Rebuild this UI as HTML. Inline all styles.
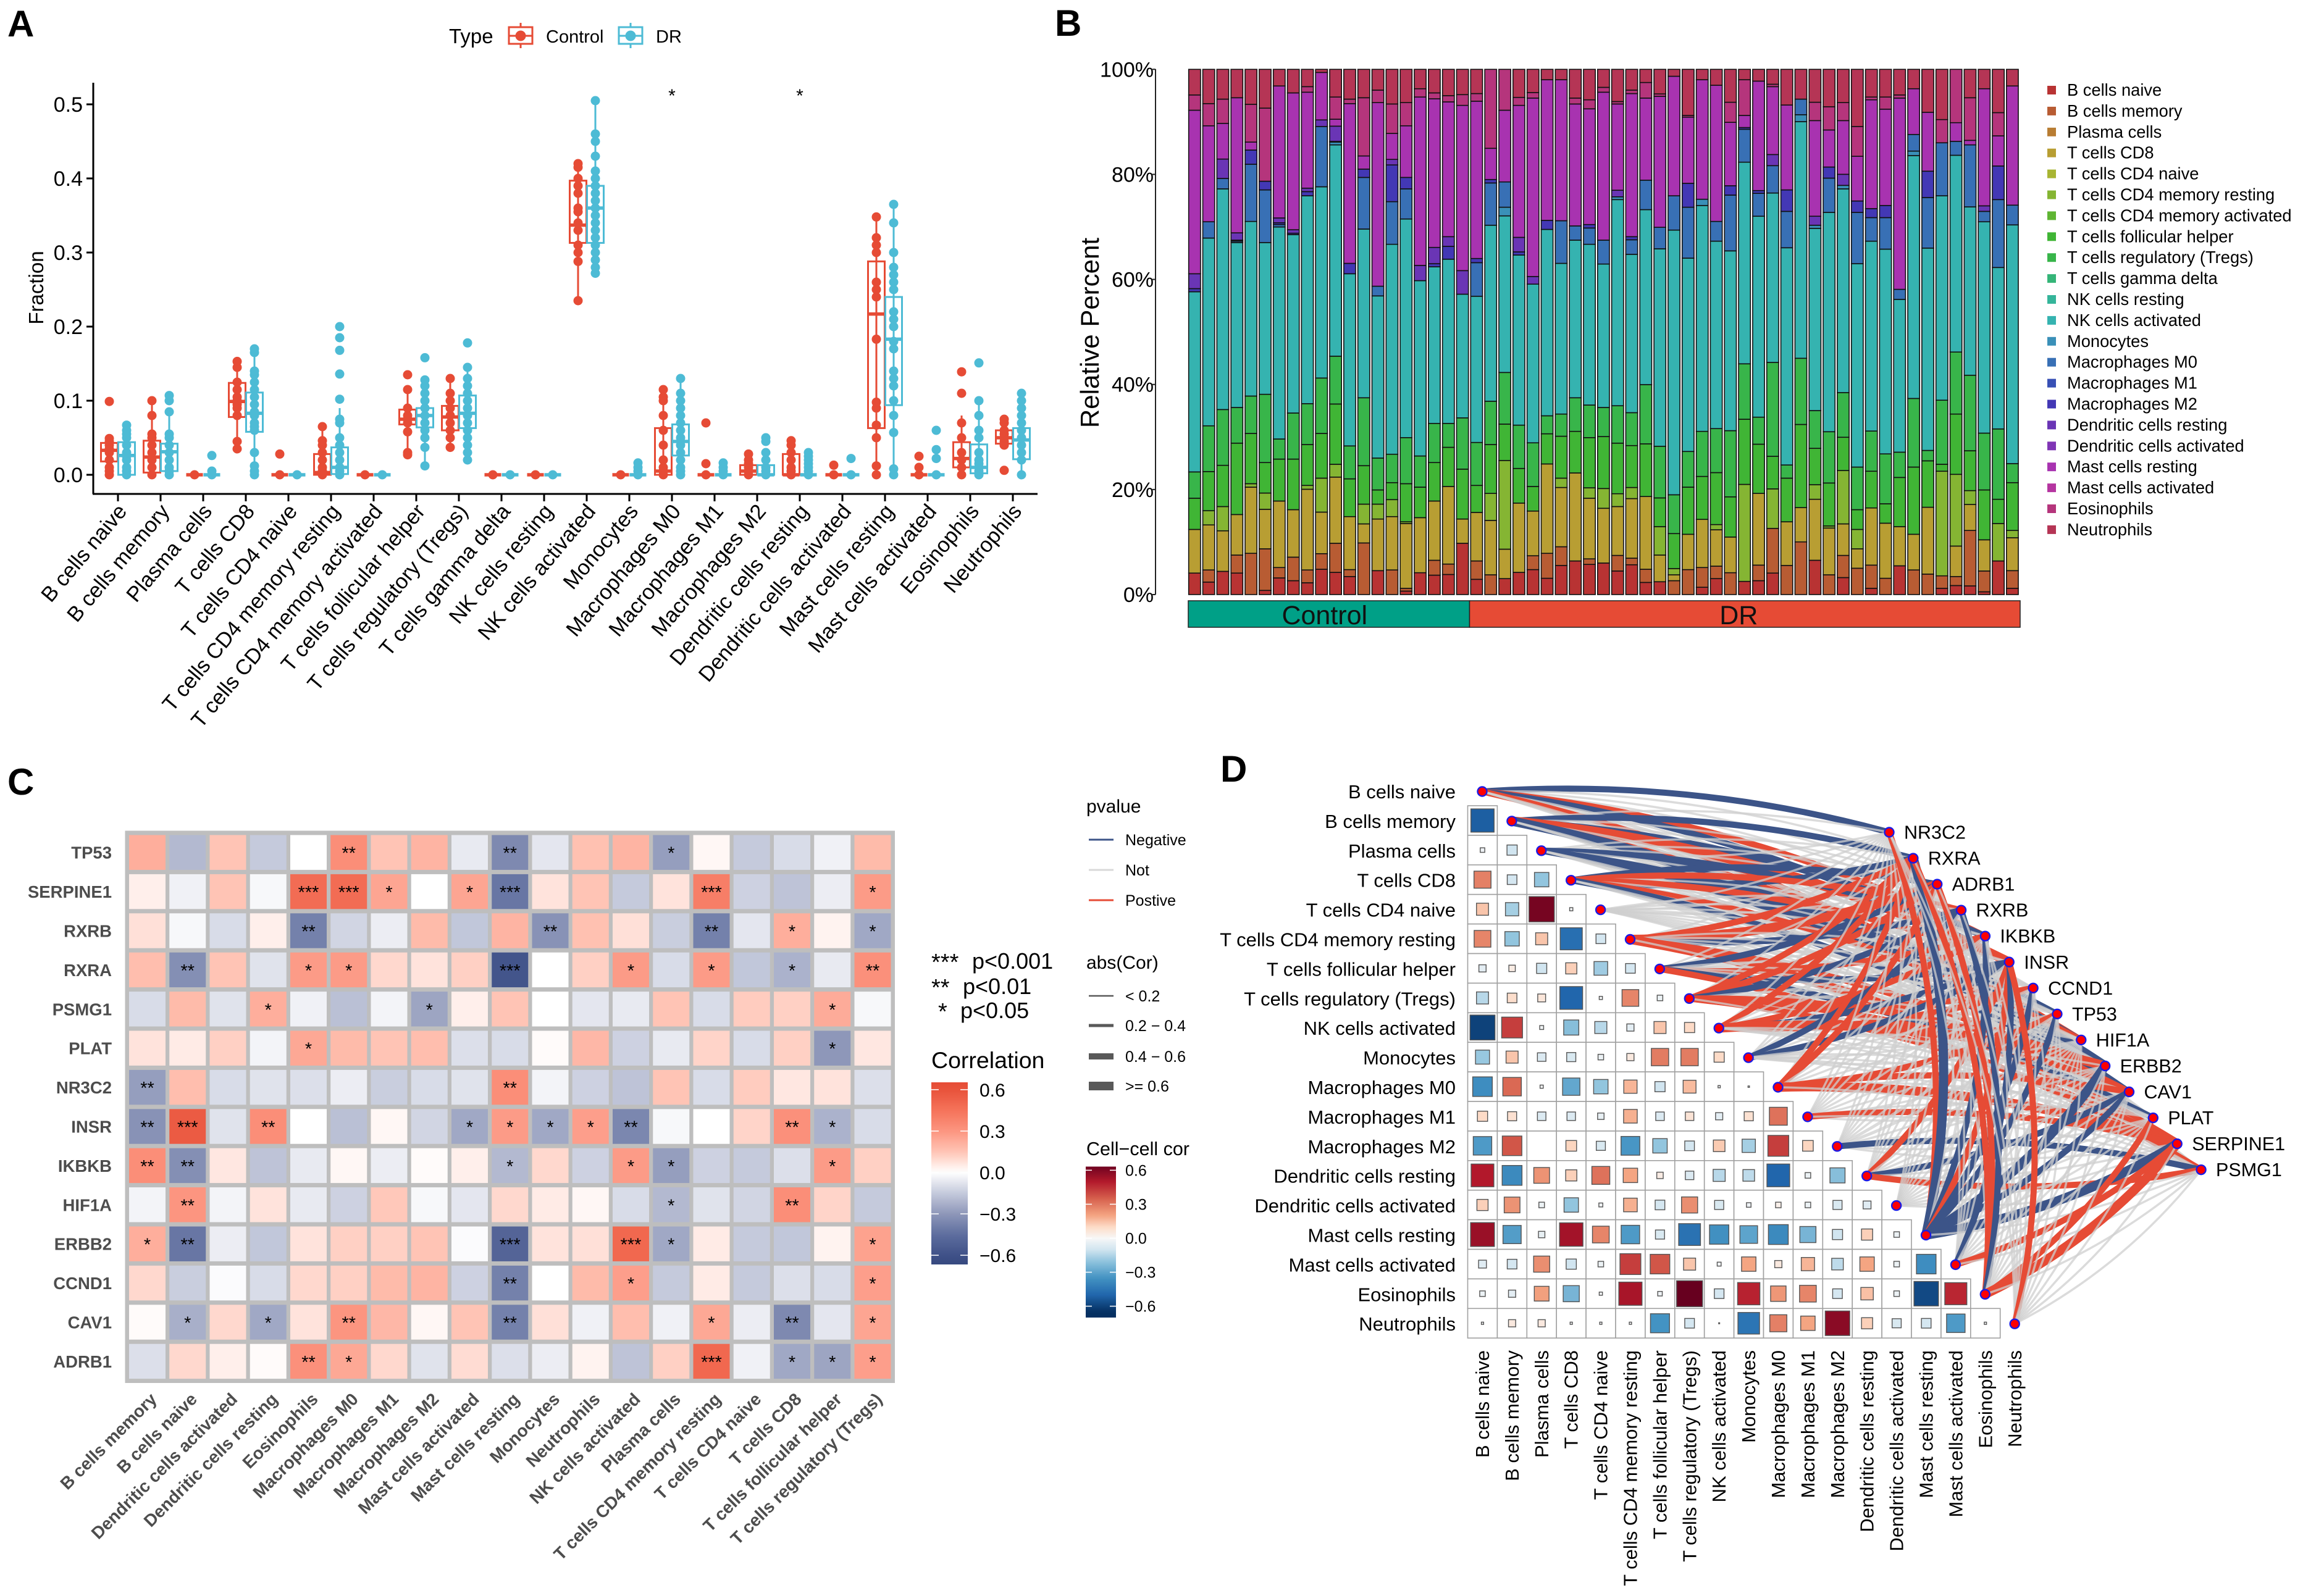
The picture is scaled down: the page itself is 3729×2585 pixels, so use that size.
<!DOCTYPE html>
<html lang="en">
<head>
<meta charset="utf-8">
<title>Immune cell infiltration figure</title>
<style>
html,body{margin:0;padding:0;background:#fff;}
svg{display:block;font-family:"Liberation Sans",Arial,sans-serif;}
</style>
</head>
<body>
<svg id="fig" xmlns="http://www.w3.org/2000/svg" width="3729" height="2585" viewBox="0 0 3729 2585">
<defs id="defs"></defs>
<rect x="0" y="0" width="3729" height="2585" fill="#ffffff"/>
<text x="12" y="59" font-size="60" font-weight="bold">A</text>
<text x="1708" y="58" font-size="60" font-weight="bold">B</text>
<text x="12" y="1287" font-size="60" font-weight="bold">C</text>
<text x="1976" y="1266" font-size="60" font-weight="bold">D</text>

<g>
<text x="727" y="70" font-size="33">Type</text>
<g fill="none" stroke="#e64b35" stroke-width="3">
<line x1="843" y1="37" x2="843" y2="78"/><rect x="824" y="44" width="38" height="27" fill="#fff"/><line x1="824" y1="58" x2="862" y2="58"/><circle cx="843" cy="58" r="7" fill="#e64b35"/>
</g>
<text x="884" y="69" font-size="29">Control</text>
<g fill="none" stroke="#4dbbd5" stroke-width="3">
<line x1="1021" y1="37" x2="1021" y2="78"/><rect x="1002" y="44" width="38" height="27" fill="#fff"/><line x1="1002" y1="58" x2="1040" y2="58"/><circle cx="1021" cy="58" r="7" fill="#4dbbd5"/>
</g>
<text x="1062" y="69" font-size="29">DR</text>
</g>
<text transform="translate(70,466) rotate(-90)" text-anchor="middle" font-size="33">Fraction</text>
<text transform="translate(1779,539) rotate(-90)" text-anchor="middle" font-size="42">Relative Percent</text>

<g font-size="36">
<text x="1508" y="1571" font-size="38">***</text>
<text x="1574" y="1569">p&lt;0.001</text>
<text x="1508" y="1612" font-size="38">**</text>
<text x="1559" y="1610">p&lt;0.01</text>
<text x="1519" y="1651" font-size="38">*</text>
<text x="1555" y="1649">p&lt;0.05</text>
</g>
<text x="1508" y="1730" font-size="37.5">Correlation</text>

<g font-size="25">
<text x="1759" y="1316" font-size="30">pvalue</text>
<line x1="1763" y1="1360" x2="1803" y2="1360" stroke="#3c5488" stroke-width="3"/>
<text x="1822" y="1369">Negative</text>
<line x1="1763" y1="1409" x2="1803" y2="1409" stroke="#d9d9d9" stroke-width="3"/>
<text x="1822" y="1418">Not</text>
<line x1="1763" y1="1458" x2="1803" y2="1458" stroke="#e64b35" stroke-width="3"/>
<text x="1822" y="1467">Postive</text>
</g>
<g font-size="25">
<text x="1759" y="1569" font-size="30">abs(Cor)</text>
<line x1="1763" y1="1613" x2="1803" y2="1613" stroke="#595959" stroke-width="2.5"/>
<text x="1822" y="1622">&lt; 0.2</text>
<line x1="1763" y1="1661" x2="1803" y2="1661" stroke="#595959" stroke-width="5"/>
<text x="1822" y="1670">0.2 − 0.4</text>
<line x1="1763" y1="1711" x2="1803" y2="1711" stroke="#595959" stroke-width="10"/>
<text x="1822" y="1720">0.4 − 0.6</text>
<line x1="1763" y1="1759" x2="1803" y2="1759" stroke="#595959" stroke-width="14"/>
<text x="1822" y="1768">&gt;= 0.6</text>
</g>
<text x="1759" y="1871" font-size="30.5">Cell−cell cor</text>

<g id="panelA"></g>
<g id="panelB"></g>
<g id="panelC"></g>
<g id="panelD"></g>
</svg>

<script>
/* ---------- Panel A data ---------- */
const boxCategories = ["B cells naive","B cells memory","Plasma cells","T cells CD8","T cells CD4 naive","T cells CD4 memory resting","T cells CD4 memory activated","T cells follicular helper","T cells regulatory (Tregs)","T cells gamma delta","NK cells resting","NK cells activated","Monocytes","Macrophages M0","Macrophages M1","Macrophages M2","Dendritic cells resting","Dendritic cells activated","Mast cells resting","Mast cells activated","Eosinophils","Neutrophils"];
const boxTicks = [0,0.1,0.2,0.3,0.4,0.5];
const boxSignificant = ["Macrophages M0","Dendritic cells resting"];
const controlQ1 = [.018,.003,0,.078,0,0,0,.068,.06,0,0,.313,0,0,0,0,0,0,.063,0,.01,.042];
const controlMedian = [.033,.024,0,.099,0,.003,0,.075,.078,0,0,.337,0,.005,0,.005,0,0,.217,0,.022,.05];
const controlQ3 = [.043,.046,0,.124,0,.028,0,.088,.093,0,0,.397,0,.063,0,.013,.028,0,.288,0,.044,.06];
const controlLow = [0,0,0,.035,0,0,0,.027,.037,0,0,.235,0,0,0,0,0,0,0,0,0,.04];
const controlHigh = [.049,.1,0,.153,0,.065,0,.115,.13,0,0,.42,0,.115,0,.028,.046,0,.348,0,.08,.075];
const controlPoints = [
[0,.005,.01,.02,.03,.035,.04,.045,.049,.099],
[0,.01,.02,.03,.04,.05,.055,.08,.1],
[0],
[.035,.045,.08,.09,.095,.1,.105,.115,.125,.145,.153],
[0,.028],
[0,.005,.01,.02,.03,.04,.046,.065],
[0],
[.027,.03,.058,.07,.075,.08,.09,.115,.135],
[.037,.05,.06,.07,.08,.09,.1,.11,.13],
[0],[0],
[.235,.288,.3,.31,.33,.34,.355,.36,.38,.39,.4,.415,.42],
[0],
[0,.005,.01,.02,.04,.06,.08,.1,.105,.115],
[0,.015,.07],
[0,.005,.01,.015,.02,.028],
[0,.005,.01,.02,.03,.04,.046],
[0,.013],
[0,.012,.05,.067,.09,.098,.183,.24,.25,.26,.3,.31,.32,.348],
[0,.01,.025],
[0,.01,.02,.03,.05,.07,.11,.139],
[.006,.04,.045,.05,.055,.06,.07,.075]];
const drQ1 = [0,.005,0,.058,0,.001,0,.064,.063,0,0,.313,0,.026,0,0,0,0,.094,0,.002,.021];
const drMedian = [.026,.031,0,.083,0,.01,0,.08,.083,0,0,.36,0,.045,0,0,0,0,.183,0,.01,.047];
const drQ3 = [.044,.042,0,.111,0,.037,0,.09,.107,0,0,.39,0,.068,0,.013,0,0,.24,0,.041,.063];
const drLow = [0,0,0,0,0,0,0,.012,.02,0,0,.272,0,0,0,0,0,0,0,0,0,0];
const drHigh = [.067,.085,0,.17,0,.09,0,.128,.145,0,0,.505,0,.13,0,.03,.005,0,.365,0,.1,.11];
const drPoints = [
[0,.005,.01,.02,.025,.03,.04,.05,.055,.06,.067],
[0,.005,.01,.02,.03,.04,.05,.055,.085,.1,.107],
[0,.005,.026],
[0,.005,.012,.03,.06,.065,.07,.08,.085,.095,.105,.115,.125,.135,.14,.165,.17],
[0],
[0,.005,.01,.02,.03,.04,.05,.07,.075,.102,.136,.168,.185,.2],
[0],
[.012,.037,.05,.06,.07,.08,.09,.1,.11,.12,.128,.158],
[.02,.03,.04,.05,.06,.07,.08,.09,.1,.11,.12,.13,.145,.178],
[0],[0],
[.272,.28,.29,.3,.31,.32,.33,.34,.35,.36,.37,.38,.39,.4,.41,.43,.45,.46,.505],
[0,.005,.01,.016],
[0,.005,.01,.02,.03,.04,.05,.06,.07,.08,.09,.1,.11,.13],
[0,.005,.01,.016],
[0,.005,.01,.02,.03,.045,.05],
[0,.005,.01,.015,.02,.025,.03],
[0,.022],
[0,.008,.057,.08,.1,.12,.13,.14,.17,.18,.2,.21,.22,.25,.26,.27,.28,.3,.34,.365],
[0,.022,.034,.06],
[0,.005,.01,.015,.02,.03,.05,.06,.08,.1,.151],
[0,.02,.03,.04,.05,.06,.07,.08,.09,.1,.11]];

/* ---------- Panel B data: relative abundance per sample, each bar normalised to 100% ---------- */
const stackLegend = ["B cells naive","B cells memory","Plasma cells","T cells CD8","T cells CD4 naive","T cells CD4 memory resting","T cells CD4 memory activated","T cells follicular helper","T cells regulatory (Tregs)","T cells gamma delta","NK cells resting","NK cells activated","Monocytes","Macrophages M0","Macrophages M1","Macrophages M2","Dendritic cells resting","Dendritic cells activated","Mast cells resting","Mast cells activated","Eosinophils","Neutrophils"];
const stackTicks = [0,20,40,60,80,100];
const controlSamples = 20;
const bNaive = [62,36,67,62,0,12,48,40,34,73,64,52,0,69,0,10,63,56,58,148,44,0,46,64,72,47,84,97,87,91,68,86,35,37,0,0,21,46,0,38,40,62,0,0,99,0,49,0,18,0,83,0,0,18,26,25,8,97,18];
const bMemory = [0,35,0,52,119,120,30,68,37,45,84,20,149,0,71,8,0,43,30,0,53,57,0,0,40,72,54,0,16,0,45,19,38,0,40,72,57,36,63,0,45,129,84,152,0,57,64,76,67,47,0,71,59,36,26,160,60,0,51];
const tCd8 = [126,130,117,117,191,114,192,137,233,120,191,153,55,149,154,187,159,171,224,70,140,157,85,200,129,258,171,254,175,158,141,172,210,77,17,102,139,105,103,0,207,0,126,99,176,135,91,56,165,159,113,103,193,0,88,75,90,0,95];
const cd4Rest = [0,41,70,0,10,47,0,0,11,98,37,0,57,43,49,5,0,0,0,0,0,78,256,0,0,0,27,0,30,57,37,32,0,82,18,0,0,15,0,280,0,114,0,0,42,6,154,56,0,0,0,0,0,302,207,40,0,108,21];
const tfh = [90,113,119,206,145,88,121,146,118,129,174,109,111,41,49,110,88,111,113,144,78,141,105,100,71,87,121,120,145,150,146,121,152,83,101,136,124,150,116,188,142,94,126,240,105,124,96,57,106,56,142,194,134,20,174,115,144,70,138];
const tregs = [76,132,161,103,108,197,58,133,118,160,138,95,196,92,82,133,90,113,69,148,124,125,149,125,126,52,64,97,94,84,108,95,171,149,112,103,130,127,191,160,78,271,38,191,109,148,129,123,116,144,73,198,30,185,179,218,164,203,55];
const nkActivated = [520,542,637,476,504,438,612,515,600,552,610,497,487,468,606,631,506,452,474,357,422,508,452,491,458,538,435,455,464,414,595,457,505,570,764,558,652,541,519,582,580,489,627,683,526,633,588,587,548,591,441,701,584,590,568,486,610,466,689];
const monocytes = [0,0,0,0,0,0,0,0,0,0,8,0,0,0,0,0,0,0,0,0,0,0,25,0,0,0,0,0,0,0,8,0,0,0,0,0,18,0,0,0,0,0,0,20,9,0,10,0,0,0,0,13,0,0,0,0,0,0,0];
const macroM0 = [0,47,30,4,165,152,7,0,0,174,0,0,149,28,123,87,0,0,0,0,97,122,73,0,0,0,123,41,47,69,0,42,85,62,99,147,0,57,161,95,66,79,105,45,0,99,0,148,68,91,29,48,146,153,40,179,30,196,57];
const macroM1 = [9,0,0,3,41,25,5,4,12,0,2,30,24,0,106,33,0,9,37,0,12,10,0,9,0,26,0,0,10,0,0,9,0,0,0,69,0,0,27,5,8,0,62,0,0,32,0,33,26,35,0,0,76,0,0,0,0,97,0];
const dcResting = [43,0,56,21,0,0,14,10,10,19,44,0,0,0,16,0,44,47,28,68,0,0,0,42,22,0,0,0,0,0,19,0,0,0,0,0,0,0,0,0,0,32,0,0,26,0,32,0,0,0,0,0,0,0,0,0,16,0,0];
const mastResting = [472,277,103,390,23,0,381,395,277,137,20,461,38,530,75,149,486,429,389,477,454,90,207,381,515,406,407,352,334,427,249,413,237,378,345,191,345,393,183,35,316,196,245,0,276,107,155,129,314,278,552,132,170,0,54,13,338,87,344];
const eosinophils = [44,64,70,0,109,211,0,0,16,0,64,13,168,36,85,67,24,17,18,31,22,228,118,23,16,0,0,17,26,14,7,10,45,7,0,5,0,0,58,103,0,7,0,0,53,67,52,86,8,35,9,0,0,67,154,123,0,67,0];
const neutrophils = [74,99,86,82,101,112,48,68,50,9,80,86,82,60,100,96,56,68,76,73,70,0,0,81,67,30,30,83,88,52,93,60,38,71,20,133,30,46,95,30,34,43,103,86,95,108,96,165,80,80,74,56,124,145,0,82,56,125,48];

/* ---------- Panel C data ---------- */
const heatColumns = ["B cells memory","B cells naive","Dendritic cells activated","Dendritic cells resting","Eosinophils","Macrophages M0","Macrophages M1","Macrophages M2","Mast cells activated","Mast cells resting","Monocytes","Neutrophils","NK cells activated","Plasma cells","T cells CD4 memory resting","T cells CD4 naive","T cells CD8","T cells follicular helper","T cells regulatory (Tregs)"];
const heatGenes = ["TP53","SERPINE1","RXRB","RXRA","PSMG1","PLAT","NR3C2","INSR","IKBKB","HIF1A","ERBB2","CCND1","CAV1","ADRB1"];
const heatValues = [
[.22,-.2,.15,-.15,0,.33,.15,.2,-.06,-.35,-.07,.16,.2,-.28,.02,-.15,-.1,-.04,.18],
[.04,-.04,.15,-.02,.48,.48,.25,0,.25,-.42,.07,.15,-.15,.07,.4,-.13,-.17,-.05,.28],
[.08,-.02,-.1,.04,-.38,-.12,-.05,.18,-.16,.2,-.32,.16,.08,-.14,-.38,-.07,.22,.03,-.25],
[.17,-.33,.15,-.08,.28,.28,.1,.07,.12,-.58,0,.12,.28,-.1,.28,-.16,-.22,-.06,.32],
[-.1,.18,-.08,.22,-.04,-.18,-.03,-.26,.04,.15,0,-.07,-.06,.15,-.1,.13,.12,.23,-.02],
[.07,.05,.12,-.03,.24,.18,.15,.17,-.09,-.1,.01,.19,-.13,-.06,.11,-.1,.12,-.3,.06],
[-.28,.17,-.1,-.08,-.09,-.05,-.14,-.1,-.08,.33,-.03,-.13,-.17,.15,-.1,.13,.06,.07,-.09],
[-.32,.56,-.08,.33,0,-.18,.02,-.12,-.25,.28,-.25,.27,-.36,-.02,0,.11,.32,-.22,-.1],
[.33,-.33,.06,-.17,-.06,.02,-.05,.01,.04,-.2,.1,-.13,.28,-.28,-.13,-.15,-.09,.28,.12],
[-.03,.3,-.03,.07,-.06,-.13,.14,-.02,-.07,.1,.05,.02,-.1,-.2,-.08,-.12,.33,.11,-.15],
[.22,-.42,-.05,-.16,.07,.12,.12,.15,-.01,-.5,.07,.08,.5,-.25,.05,-.15,-.16,.03,.26],
[.1,-.14,-.01,-.1,.1,.12,.18,.2,-.13,-.38,0,.18,.27,-.15,.05,-.15,-.09,-.1,.27],
[.01,-.23,.1,-.25,.07,.3,.19,.02,.15,-.38,.08,-.04,.17,-.04,.24,-.05,-.35,-.07,.25],
[-.09,.1,.04,.01,.32,.24,.1,-.08,.09,-.09,-.05,.03,-.17,.12,.5,-.04,-.25,-.26,.27]];
const heatStars = [
[0,0,0,0,0,2,0,0,0,2,0,0,0,1,0,0,0,0,0],
[0,0,0,0,3,3,1,0,1,3,0,0,0,0,3,0,0,0,1],
[0,0,0,0,2,0,0,0,0,0,2,0,0,0,2,0,1,0,1],
[0,2,0,0,1,1,0,0,0,3,0,0,1,0,1,0,1,0,2],
[0,0,0,1,0,0,0,1,0,0,0,0,0,0,0,0,0,1,0],
[0,0,0,0,1,0,0,0,0,0,0,0,0,0,0,0,0,1,0],
[2,0,0,0,0,0,0,0,0,2,0,0,0,0,0,0,0,0,0],
[2,3,0,2,0,0,0,0,1,1,1,1,2,0,0,0,2,1,0],
[2,2,0,0,0,0,0,0,0,1,0,0,1,1,0,0,0,1,0],
[0,2,0,0,0,0,0,0,0,0,0,0,0,1,0,0,2,0,0],
[1,2,0,0,0,0,0,0,0,3,0,0,3,1,0,0,0,0,1],
[0,0,0,0,0,0,0,0,0,2,0,0,1,0,0,0,0,0,1],
[0,1,0,1,0,2,0,0,0,2,0,0,0,0,1,0,2,0,1],
[0,0,0,0,2,1,0,0,0,0,0,0,0,0,3,0,1,1,1]];
const heatLegendTicks = [0.6,0.3,0,-0.3,-0.6];

/* ---------- Panel D data ---------- */
const netCells = ["B cells naive","B cells memory","Plasma cells","T cells CD8","T cells CD4 naive","T cells CD4 memory resting","T cells follicular helper","T cells regulatory (Tregs)","NK cells activated","Monocytes","Macrophages M0","Macrophages M1","Macrophages M2","Dendritic cells resting","Dendritic cells activated","Mast cells resting","Mast cells activated","Eosinophils","Neutrophils"];
const netCellHeatColumn = [0,1,13,16,15,14,17,18,12,10,5,6,7,3,2,9,8,4,11];
const netGenes = ["NR3C2","RXRA","ADRB1","RXRB","IKBKB","INSR","CCND1","TP53","HIF1A","ERBB2","CAV1","PLAT","SERPINE1","PSMG1"];
const cellCorrelation = [
[-.52],
[-.02,-.1],
[.28,-.09,-.2],
[.14,-.17,.62,-.01],
[.27,-.2,.14,-.47,-.09],
[-.05,.04,-.1,.12,-.18,-.09],
[-.14,.09,.06,-.5,-.01,.27,-.03],
[-.6,.42,-.015,-.22,-.14,-.05,.14,.1],
[-.19,.14,-.07,-.08,-.03,.05,.29,.29,.1],
[-.37,.33,-.01,-.29,-.2,.17,-.1,.16,-.005,-.002],
[.1,.08,-.07,-.07,-.04,.18,-.07,.07,-.05,.08,.31],
[-.33,.37,0,.11,-.08,-.34,-.2,-.09,.13,-.17,.42,.11],
[.5,-.38,.24,.12,.31,.2,.04,-.07,-.14,-.13,-.5,-.03,-.22],
[.12,.24,-.03,-.2,-.015,.18,-.09,.25,-.08,-.02,.03,-.03,-.08,-.06],
[.55,-.32,-.04,.53,.27,-.33,-.08,-.46,-.36,-.3,-.38,-.25,-.1,.12,-.03],
[-.06,-.09,.25,-.1,-.03,.42,.37,.14,-.015,.2,.05,.17,-.13,.2,-.03,-.37],
[-.03,-.05,.21,-.25,-.01,.52,-.02,.65,-.09,.48,.23,.27,-.09,.15,-.03,-.58,.47],
[-.005,.05,.05,-.005,-.005,-.005,-.35,-.09,-.001,-.45,.28,.2,.58,.12,-.08,-.09,-.33,-.005]];
const cellLegendTicks = [0.6,0.3,0,-0.3,-0.6];

/* ---------- helpers ---------- */
const NS = "http://www.w3.org/2000/svg";
function mk(tag, attrs, parent, text){
  const e = document.createElementNS(NS, tag);
  for (const k in attrs) e.setAttribute(k, attrs[k]);
  if (text !== undefined) e.textContent = text;
  parent.appendChild(e);
  return e;
}
function lerpStops(stops, v){
  if (v <= stops[0][0]) return stops[0][1];
  for (let i = 1; i < stops.length; i++){
    if (v <= stops[i][0]){
      const a = stops[i-1], b = stops[i], t = (v-a[0])/(b[0]-a[0]);
      const ca = hex(a[1]), cb = hex(b[1]);
      return "rgb(" + ca.map((c,j)=>Math.round(c+(cb[j]-c)*t)).join(",") + ")";
    }
  }
  return stops[stops.length-1][1];
}
function hex(h){ return [1,3,5].map(i=>parseInt(h.substr(i,2),16)); }
const heatStops = [[-.67,"#36497f"],[-.6,"#3f5188"],[-.45,"#5e6e9f"],[-.3,"#8e97b9"],[-.15,"#c5cadc"],[0,"#ffffff"],[.15,"#ffc4b5"],[.3,"#fc9580"],[.45,"#f5735a"],[.6,"#e8523a"],[.66,"#e64b35"]];
const cellStops = [[-.65,"#053061"],[-.5,"#2166ac"],[-.35,"#4393c3"],[-.2,"#92c5de"],[-.1,"#d1e5f0"],[0,"#f7f7f7"],[.1,"#fddbc7"],[.2,"#f4a582"],[.35,"#d6604d"],[.5,"#b2182b"],[.65,"#67001f"]];
const fmt = v => (v<0 ? "−" : "") + Math.abs(v).toFixed(1);

/* ---------- Panel A ---------- */
(function(){
  const g = document.getElementById("panelA");
  const yA = v => 769 - v*1200;
  const xA = i => 191 + i*69;
  const axisY = mk("line",{x1:151,y1:134,x2:151,y2:800,stroke:"#000","stroke-width":3},g);
  
  
  const axisX = mk("line",{x1:150,y1:800,x2:1680,y2:800,stroke:"#000","stroke-width":3},g);
  
  
  boxTicks.forEach(t=>{
    const tk = mk("line",{x1:140,y1:yA(t),x2:151,y2:yA(t),stroke:"#000","stroke-width":3},g);
    
    
    const lb = mk("text",{x:134,y:yA(t)+12,"text-anchor":"end","font-size":34},g,t.toFixed(1));
    
    
  });
  function group(i, off, color, q1, med, q3, lo, hi, pts, nm){
    const gg = mk("g",{},g);
    
    
    const cx = xA(i)+off;
    const w = mk("line",{x1:cx,y1:yA(lo),x2:cx,y2:yA(hi),stroke:color,"stroke-width":3},gg);
    
    
    const r = mk("rect",{x:cx-13.5,y:yA(q3),width:27,height:yA(q1)-yA(q3),fill:"none",stroke:color,"stroke-width":3},gg);
    
    
    const m = mk("line",{x1:cx-13.5,y1:yA(med),x2:cx+13.5,y2:yA(med),stroke:color,"stroke-width":5.5},gg);
    
    
    pts.forEach(p=>{
      const c = mk("circle",{cx:cx,cy:yA(p),r:7.5,fill:color},gg);
      
      
    });
  }
  boxCategories.forEach((name,i)=>{
    const tk = mk("line",{x1:xA(i),y1:800,x2:xA(i),y2:812,stroke:"#000","stroke-width":3},g);
    
    
    group(i,-14,"#e64b35",controlQ1[i],controlMedian[i],controlQ3[i],controlLow[i],controlHigh[i],controlPoints[i],"control");
    group(i,14,"#4dbbd5",drQ1[i],drMedian[i],drQ3[i],drLow[i],drHigh[i],drPoints[i],"dr");
    const lb = mk("text",{transform:"translate("+(xA(i)+16)+",829) rotate(-50)","text-anchor":"end","font-size":34.5},g,name);
    
    
    if (boxSignificant.indexOf(name) >= 0){
      const st = mk("text",{x:xA(i),y:165,"text-anchor":"middle","font-size":30},g,"*");
      
      
    }
  });
})();

/* ---------- Panel B ---------- */
(function(){
  const g = document.getElementById("panelB");
  const yB = p => 963 - p*8.507;
  const xB = i => 1934.3 + i*22.83;
  const series = [[bNaive,"#b83333"],[bMemory,"#b85c33"],[tCd8,"#b89e33"],[cd4Rest,"#85b533"],[tfh,"#40b535"],[tregs,"#38b54a"],[nkActivated,"#35b3b0"],[monocytes,"#3a90b8"],[macroM0,"#3870b5"],[macroM1,"#4338b5"],[dcResting,"#6a35b5"],[mastResting,"#a833b0"],[eosinophils,"#b5357c"],[neutrophils,"#b53555"]];
  const legendColors = ["#b83333","#b85c33","#b87d33","#b89e33","#a8b533","#85b533","#5fb533","#40b535","#38b54a","#35b578","#35b59a","#35b3b0","#3a90b8","#3870b5","#3850b5","#4338b5","#6a35b5","#8035b5","#a833b0","#b535a0","#b5357c","#b53555"];
  const n = bNaive.length;
  for (let i = 0; i < n; i++){
    let total = 0;
    series.forEach(s=>{ total += s[0][i]; });
    let cum = 0;
    const bar = mk("g",{},g);
    
    
    series.forEach(s=>{
      const v = s[0][i];
      if (v <= 0) return;
      const a = cum/total*100, b = (cum+v)/total*100;
      cum += v;
      const r = mk("rect",{x:xB(i)-9.6,y:yB(b),width:19.2,height:yB(a)-yB(b),fill:s[1],stroke:"#111","stroke-width":1.6},bar);
      
      
    });
  }
  const ax = mk("line",{x1:1871,y1:112,x2:1871,y2:963,stroke:"#222","stroke-width":2},g);
  
  
  stackTicks.forEach(t=>{
    const tk = mk("line",{x1:1866,y1:yB(t),x2:1871,y2:yB(t),stroke:"#222","stroke-width":2},g);
    
    
    const lb = mk("text",{x:1868,y:yB(t)+12,"text-anchor":"end","font-size":34},g,t+"%");
    
    
  });
  const splitX = xB(controlSamples) - 11.4;
  const ctl = mk("rect",{x:1924,y:973,width:splitX-1924,height:43,fill:"#00a087",stroke:"#222","stroke-width":1.5},g);
  
  
  const dr = mk("rect",{x:splitX,y:973,width:3271-splitX,height:43,fill:"#e64b35",stroke:"#222","stroke-width":1.5},g);
  
  
  const ctlT = mk("text",{x:(1924+splitX)/2-7,y:1011,"text-anchor":"middle","font-size":43,fill:"#111"},g,"Control");
  
  
  const drT = mk("text",{x:(splitX+3271)/2-10,y:1011,"text-anchor":"middle","font-size":43,fill:"#111"},g,"DR");
  
  
  stackLegend.forEach((name,i)=>{
    const y = 146 + i*33.9;
    const sw = mk("rect",{x:3315,y:y-7,width:14,height:14,fill:legendColors[i]},g);
    
    
    const lb = mk("text",{x:3347,y:y+9,"font-size":27.3},g,name);
    
    
  });
})();

/* ---------- Panel C ---------- */
(function(){
  const g = document.getElementById("panelC");
  const cx = j => 238.5 + j*65.25;
  const cy = i => 1380.7 + i*63.4;
  const frame = mk("rect",{x:202.5,y:1345.5,width:1246.5,height:894.5,fill:"#bebebe"},g);
  
  
  heatGenes.forEach((gene,i)=>{
    const lb = mk("text",{x:181,y:cy(i)+10,"text-anchor":"end","font-size":27.5,"font-weight":"bold",fill:"#4d4d4d"},g,gene);
    
    
    heatColumns.forEach((col,j)=>{
      const v = heatValues[i][j];
      const r = mk("rect",{x:cx(j)-29.5,y:cy(i)-28.2,width:59,height:56.4,fill:lerpStops(heatStops,v)},g);
      
      
      const s = heatStars[i][j];
      if (s > 0){
        const t = mk("text",{x:cx(j),y:cy(i)+11,"text-anchor":"middle","font-size":29,fill:"#000"},g,"*".repeat(s));
        
        
      }
    });
  });
  heatColumns.forEach((col,j)=>{
    const lb = mk("text",{transform:"translate("+(cx(j)+17)+",2268) rotate(-45)","text-anchor":"end","font-size":28,"font-weight":"bold",fill:"#4d4d4d"},g,col);
    
    
  });
  /* colour bar */
  const defs = document.getElementById("defs");
  const yLeg = v => 1899 - v*223.5;
  const grad = mk("linearGradient",{id:"heatGrad",x1:0,y1:0,x2:0,y2:1},defs);
  for (let k = 0; k <= 40; k++){
    const y = 1753 + (2048-1753)*k/40;
    const v = (1899-y)/223.5;
    mk("stop",{offset:k/40,"stop-color":lerpStops(heatStops,v)},grad);
  }
  const bar = mk("rect",{x:1508,y:1753,width:59,height:295,fill:"url(#heatGrad)"},g);
  
  
  heatLegendTicks.forEach(t=>{
    const a = mk("line",{x1:1508,y1:yLeg(t),x2:1520,y2:yLeg(t),stroke:"#fff","stroke-width":1.5},g);
    
    
    const b = mk("line",{x1:1555,y1:yLeg(t),x2:1567,y2:yLeg(t),stroke:"#fff","stroke-width":1.5},g);
    
    
    const lb = mk("text",{x:1586,y:yLeg(t)+11,"font-size":30},g,fmt(t));
    
    
  });
})();

/* ---------- Panel D ---------- */
(function(){
  const g = document.getElementById("panelD");
  const pitch = 47.9;
  const nodeX = i => 2400 + i*pitch;
  const nodeY = i => 1282 + i*pitch;
  const geneX = k => 3059 + k*38.85;
  const geneY = k => 1348 + k*42.05;
  /* triangle */
  cellCorrelation.forEach((row,ri)=>{
    row.forEach((v,j)=>{
      const x = 2376.5 + j*pitch, y = 1305 + ri*pitch;
      const c = mk("rect",{x:x,y:y,width:pitch,height:pitch,fill:"#fff",stroke:"#a0a0a0","stroke-width":1.6},g);
      
      
    });
  });
  cellCorrelation.forEach((row,ri)=>{
    row.forEach((v,j)=>{
      const side = Math.sqrt(Math.abs(v)/0.65)*42;
      if (side < 0.5) return;
      const x = 2376.5 + (j+.5)*pitch, y = 1305 + (ri+.5)*pitch;
      const s = mk("rect",{x:x-side/2,y:y-side/2,width:side,height:side,fill:lerpStops(cellStops,v),stroke:"#555","stroke-width":1.4},g);
      
      
    });
  });
  /* edges */
  netCells.forEach((cell,ci)=>{
    const col = netCellHeatColumn[ci];
    netGenes.forEach((gene,gi)=>{
      const hr = heatGenes.indexOf(gene);
      const v = heatValues[hr][col], s = heatStars[hr][col];
      const a = Math.abs(v);
      const wd = a < .2 ? 3.5 : a < .4 ? 10 : a < .6 ? 15 : 19;
      const x1 = nodeX(ci), y1 = nodeY(ci), x2 = geneX(gi), y2 = geneY(gi);
      const dx = x2-x1, dy = y2-y1, L = Math.hypot(dx,dy);
      let nx = dy/L, ny = -dx/L;
      if (nx < 0){ nx = -nx; ny = -ny; }
      const curv = 0.08 + 0.045*Math.abs(dy)/L;
      const qx = (x1+x2)/2 + nx*curv*L, qy = (y1+y2)/2 + ny*curv*L;
      const color = s === 0 ? "#cfcfcf" : (v < 0 ? "#3c5488" : "#e64b35");
      const p = mk("path",{d:"M"+x1+" "+y1+" Q"+qx+" "+qy+" "+x2+" "+y2,fill:"none",stroke:color,"stroke-width":s===0?Math.min(wd,5):wd,"stroke-opacity":s===0?.75:1},g);
      
      
    });
  });
  /* nodes & labels */
  netCells.forEach((cell,i)=>{
    const n = mk("circle",{cx:nodeX(i),cy:nodeY(i),r:7.5,fill:"#ff0000",stroke:"#1a1ae6","stroke-width":2.4},g);
    
    
    const lb = mk("text",{x:2357,y:nodeY(i)+11,"text-anchor":"end","font-size":31},g,cell);
    
    
    const lc = mk("text",{transform:"translate("+(nodeX(0)+i*pitch+11)+",2187) rotate(-90)","text-anchor":"end","font-size":31},g,cell);
    
    
  });
  netGenes.forEach((gene,k)=>{
    const n = mk("circle",{cx:geneX(k),cy:geneY(k),r:7.5,fill:"#ff0000",stroke:"#1a1ae6","stroke-width":2.4},g);
    
    
    const lb = mk("text",{x:geneX(k)+24,y:geneY(k)+10.5,"font-size":30.5},g,gene);
    
    
  });
  /* cell-cell colour bar */
  const defs = document.getElementById("defs");
  const yLeg = v => 2005.5 - v*183.5;
  const grad = mk("linearGradient",{id:"cellGrad",x1:0,y1:0,x2:0,y2:1},defs);
  for (let k = 0; k <= 40; k++){
    const y = 1889.5 + (2134-1889.5)*k/40;
    const v = (2005.5-y)/183.5;
    mk("stop",{offset:k/40,"stop-color":lerpStops(cellStops,v)},grad);
  }
  const bar = mk("rect",{x:1758,y:1889.5,width:49,height:244.5,fill:"url(#cellGrad)"},g);
  
  
  cellLegendTicks.forEach(t=>{
    const a = mk("line",{x1:1758,y1:yLeg(t),x2:1768,y2:yLeg(t),stroke:"#fff","stroke-width":1.5},g);
    
    
    const b = mk("line",{x1:1797,y1:yLeg(t),x2:1807,y2:yLeg(t),stroke:"#fff","stroke-width":1.5},g);
    
    
    const lb = mk("text",{x:1822,y:yLeg(t)+9,"font-size":25},g,fmt(t));
    
    
  });
})();
</script>
</body>
</html>
